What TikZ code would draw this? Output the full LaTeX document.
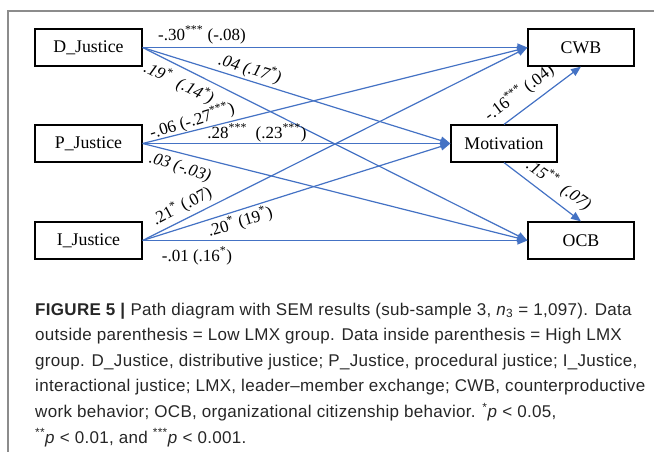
\documentclass[tikz,border=0pt]{standalone}
\usepackage{fontspec}
\setmainfont{Liberation Serif}
\newfontfamily\capfont[LetterSpace=1.8]{Liberation Sans}
\usetikzlibrary{arrows.meta}
\definecolor{pathblue}{HTML}{4472C4}
\definecolor{framegray}{HTML}{8C8C8C}

\begin{document}
\begin{tikzpicture}[x=1pt,y=-1pt,
  var/.style={draw=black, line width=1.2pt, minimum width=107pt, minimum height=37pt,
    inner sep=0pt, font=\fontsize{17.8}{20}\selectfont},
  sem/.style={draw=pathblue, line width=1.2pt, -{Triangle[length=10pt,width=8pt]}},
  coef/.style={inner sep=0pt, font=\fontsize{17}{20}\selectfont},
  coefit/.style={inner sep=0pt, font=\fontsize{17}{20}\selectfont\itshape},
  captxt/.style={anchor=base west, inner sep=0pt, text=black!85,
    font=\capfont\fontsize{17}{19}\selectfont}
]
\useasboundingbox (0,0) rectangle (654,452);

% panel frame
\draw[framegray, line width=1.5pt] (8,452) -- (8,11) -- (654,11);

% variables
\node[var] (dj) at (88.5,47.5) {D\_Justice};
\node[var] (pj) at (88.5,143.5) {P\_Justice};
\node[var] (ij) at (88.5,240.5) {I\_Justice};
\node[var, minimum width=106pt] (cwb) at (581,47.5) {CWB};
\node[var, minimum width=106pt] (mot) at (504,143.5) {Motivation};
\node[var, minimum width=106pt] (ocb) at (581,240.5) {OCB};

% structural paths
\draw[sem] (dj.east) -- (cwb.west);
\draw[sem] (dj.east) -- (mot.west);
\draw[sem] (dj.east) -- (ocb.west);
\draw[sem] (pj.east) -- (cwb.west);
\draw[sem] (pj.east) -- (mot.west);
\draw[sem] (pj.east) -- (ocb.west);
\draw[sem] (ij.east) -- (cwb.west);
\draw[sem] (ij.east) -- (mot.west);
\draw[sem] (ij.east) -- (ocb.west);
\draw[sem] (mot.north) -- (cwb.south);
\draw[sem] (mot.south) -- (ocb.north);

% path coefficients: low LMX (high LMX)
\node[coef] (c1) at (202,35) {-.30\textsuperscript{***} (-.08)};
\node[coefit, rotate=-17] (c2) at (250,69) {.04 (.17\textsuperscript{*})};
\node[coefit, rotate=-26] (c3) at (179,83) {.19\textsuperscript{*}\ \ (.14\textsuperscript{*})};
\node[coef, rotate=17] (c4) at (192,121) {-.06 (-.27\textsuperscript{***})};
\node[coef] (c5) at (257,133) {.28\textsuperscript{***} \ (.23\textsuperscript{***})};
\node[coefit, rotate=-18] (c6) at (180,168) {.03 (-.03)};
\node[coef, rotate=28] (c7) at (182,206) {.21\textsuperscript{*} (.07)};
\node[coef, rotate=17] (c8) at (240,222) {.20\textsuperscript{*} (19\textsuperscript{*})};
\node[coef] (c9) at (197,256) {-.01 (.16\textsuperscript{*})};
\node[coef, rotate=37] (c10) at (519,93) {-.16\textsuperscript{***} (.04)};
\node[coefit, rotate=-35] (c11) at (559,185) {.15\textsuperscript{**}\ \ (.07)};

% caption
\node[captxt] (cap1) at (35,315) {\textbf{FIGURE 5 |} Path diagram with SEM results (sub-sample 3, \textit{n}\textsubscript{3} = 1,097). Data};
\node[captxt] (cap2) at (35,340.6) {outside parenthesis = Low LMX group. Data inside parenthesis = High LMX};
\node[captxt] (cap3) at (35,366.2) {group. D\_Justice, distributive justice; P\_Justice, procedural justice; I\_Justice,};
\node[captxt] (cap4) at (35,391.8) {interactional justice; LMX, leader–member exchange; CWB, counterproductive};
\node[captxt] (cap5) at (35,417.4) {work behavior; OCB, organizational citizenship behavior. \textsuperscript{*}\textit{p} < 0.05,};
\node[captxt] (cap6) at (35,443) {\textsuperscript{**}\textit{p} < 0.01, and \textsuperscript{***}\textit{p} < 0.001.};
\end{tikzpicture}
\end{document}
